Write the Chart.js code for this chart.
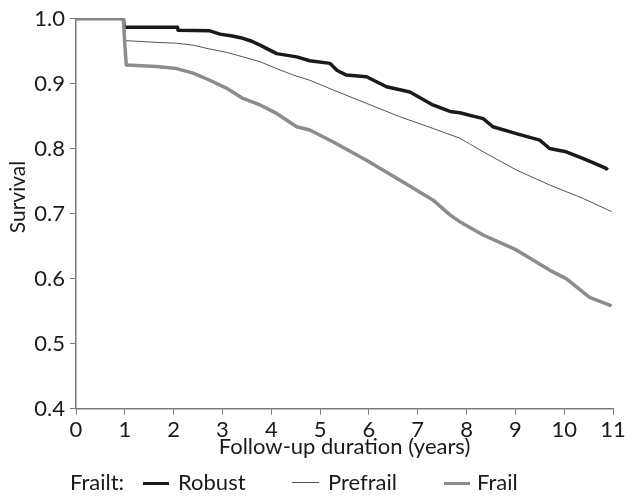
<!DOCTYPE html>
<html>
<head>
<meta charset="utf-8">
<script src="https://cdn.jsdelivr.net/npm/chart.js@4"></script>
<style>
  body { margin: 0; background: #fff; }
  #wrap { position: relative; width: 629px; height: 499px; }
  #legend { position: absolute; top: 468px; left: 70px; font: 22px Lato, sans-serif; color: #1a1a1a; white-space: nowrap; }
  #legend span { position: absolute; top: 0; }
  #legend i { position: absolute; top: 14px; display: block; }
</style>
</head>
<body>
<div id="wrap">
  <canvas id="chart" width="629" height="499"></canvas>
  <div id="legend">
    <span style="left:0">Frailt:</span>
    <i style="left:73px;width:26px;border-top:3.5px solid #1a1a1a"></i>
    <span style="left:108px">Robust</span>
    <i style="left:222px;width:27px;border-top:1px solid #555"></i>
    <span style="left:258px">Prefrail</span>
    <i style="left:374px;width:26px;border-top:3.5px solid #8c8c8c"></i>
    <span style="left:407px">Frail</span>
  </div>
</div>
<script>
const xTicks = [0, 1, 2, 3, 4, 5, 6, 7, 8, 9, 10, 11];
const yTicks = [0.4, 0.5, 0.6, 0.7, 0.8, 0.9, 1.0];

const robustYears = [0, 0.97, 0.99, 2.08, 2.09, 2.74, 2.95, 3.2, 3.42, 3.6, 3.77, 4.11, 4.52, 4.79, 5.2, 5.35, 5.54, 5.95, 6.36, 6.84, 7.31, 7.66, 7.86, 8.34, 8.54, 9.02, 9.5, 9.7, 10.04, 10.38, 10.6, 10.86, 10.89];
const robustSurvival = [1.0, 1.0, 0.9865, 0.9865, 0.982, 0.981, 0.976, 0.973, 0.9695, 0.965, 0.959, 0.946, 0.941, 0.935, 0.931, 0.92, 0.913, 0.9105, 0.895, 0.887, 0.867, 0.857, 0.855, 0.846, 0.8335, 0.823, 0.813, 0.8, 0.795, 0.785, 0.778, 0.7695, 0.767];

const prefrailYears = [0, 0.97, 1.0, 1.72, 2.06, 2.4, 2.74, 3.08, 3.42, 3.77, 4.11, 4.45, 4.79, 5.27, 5.95, 6.63, 7.31, 7.86, 8.34, 9.02, 9.7, 10.38, 10.97];
const prefrailSurvival = [1.0, 1.0, 0.966, 0.963, 0.962, 0.959, 0.953, 0.948, 0.941, 0.9335, 0.923, 0.913, 0.905, 0.89, 0.8695, 0.849, 0.831, 0.816, 0.795, 0.767, 0.744, 0.7235, 0.703];

const frailYears = [0, 0.97, 1.0, 1.03, 1.65, 2.06, 2.4, 2.74, 3.08, 3.42, 3.77, 4.11, 4.31, 4.52, 4.79, 5.27, 5.95, 6.63, 7.31, 7.66, 7.86, 8.34, 9.02, 9.7, 10.04, 10.38, 10.52, 10.97];
const frailSurvival = [1.0, 1.0, 0.96, 0.9285, 0.926, 0.923, 0.916, 0.905, 0.893, 0.877, 0.867, 0.854, 0.844, 0.8335, 0.8285, 0.81, 0.782, 0.7515, 0.721, 0.698, 0.6875, 0.667, 0.644, 0.613, 0.6, 0.5797, 0.571, 0.558];

const toPoints = (xs, ys) => xs.map((x, i) => ({ x: x, y: ys[i] }));
const font = { family: 'Lato, sans-serif', size: 22 };
const axisGray = '#7a7a7a';

const yTitle = {
    id: 'yTitle',
    afterDraw(chart) {
        const ctx = chart.ctx;
        ctx.save();
        ctx.translate(18, 197);
        ctx.rotate(-Math.PI / 2);
        ctx.font = '21px Lato, sans-serif';
        ctx.fillStyle = '#1a1a1a';
        ctx.textAlign = 'center';
        ctx.textBaseline = 'middle';
        ctx.fillText('Survival', 0, 0);
        ctx.restore();
    }
};

new Chart(document.getElementById('chart'), {
    type: 'line',
    data: {
        datasets: [
            { label: 'Frail', data: toPoints(frailYears, frailSurvival), borderColor: '#8c8c8c', borderWidth: 3.5 },
            { label: 'Prefrail', data: toPoints(prefrailYears, prefrailSurvival), borderColor: '#555', borderWidth: 1 },
            { label: 'Robust', data: toPoints(robustYears, robustSurvival), borderColor: '#1a1a1a', borderWidth: 3.5 }
        ]
    },
    options: {
        responsive: false,
        animation: false,
        elements: { point: { radius: 0 }, line: { tension: 0, borderJoinStyle: 'round' } },
        layout: { padding: { top: 18.5, right: 16, bottom: 30.4, left: 0 } },
        plugins: { legend: { display: false }, tooltip: { enabled: false } },
        scales: {
            x: {
                type: 'linear', min: 0, max: 11,
                afterBuildTicks: s => { s.ticks = xTicks.map(v => ({ value: v })); },
                afterFit: s => { s.height = 60; },
                ticks: { font: font, color: '#1a1a1a', padding: 2, maxRotation: 0 },
                grid: { drawOnChartArea: false, tickLength: 6, color: axisGray },
                border: { color: axisGray, width: 1.5 },
                title: { display: true, text: 'Follow-up duration (years)', font: font, color: '#1a1a1a', padding: { top: 0, bottom: 8 } }
            },
            y: {
                min: 0.4, max: 1.0,
                afterBuildTicks: s => { s.ticks = yTicks.map(v => ({ value: v })); },
                afterFit: s => { s.width = 76; },
                ticks: { font: font, color: '#1a1a1a', padding: 5, callback: v => v.toFixed(1) },
                grid: { drawOnChartArea: false, tickLength: 6, color: axisGray },
                border: { color: axisGray, width: 1.5 }
            }
        }
    },
    plugins: [yTitle]
});
</script>
</body>
</html>
